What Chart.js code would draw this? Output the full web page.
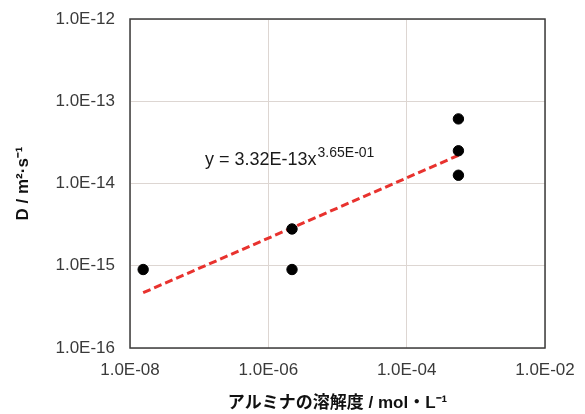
<!DOCTYPE html>
<html>
<head>
<meta charset="utf-8">
<script src="https://cdn.jsdelivr.net/npm/chart.js@4.4.1/dist/chart.umd.min.js"></script>
<style>
  html, body { margin: 0; padding: 0; background: #ffffff; }
  #wrap { width: 585px; height: 414px; position: relative; }
</style>
</head>
<body>
<div id="wrap"><canvas id="c" width="585" height="414"></canvas></div>
<script>
// ---- data ----
const solubility = [1.55e-8, 2.2e-6, 2.2e-6, 5.6e-4, 5.6e-4, 5.6e-4];      // mol/L
const diffusion  = [9.0e-16, 2.8e-15, 9.0e-16, 6.1e-14, 2.5e-14, 1.26e-14]; // m2/s
const trendX = [1.55e-8, 5.6e-4];
const trendY = [4.7e-16, 2.2e-14];
const xTickValues = [1e-8, 1e-6, 1e-4, 1e-2];
const xTickLabels = ['1.0E-08', '1.0E-06', '1.0E-04', '1.0E-02'];
const yTickValues = [1e-16, 1e-15, 1e-14, 1e-13, 1e-12];
const yTickLabels = ['1.0E-16', '1.0E-15', '1.0E-14', '1.0E-13', '1.0E-12'];
const equationMain = 'y = 3.32E-13x';
const equationExp = '3.65E-01';
const xTitle = 'アルミナの溶解度 / mol・L⁻¹';
const yTitle = 'D / m²·s⁻¹';

const FONT = "'Liberation Sans', Arial, 'Noto Sans CJK JP', sans-serif";
const TICK_COLOR = '#3a3a3a';
const GRID_COLOR = '#ddd6d2';

const frame = {
  id: 'frame',
  afterDatasetsDraw(chart) {
    const {ctx, chartArea: a} = chart;
    ctx.save();
    ctx.strokeStyle = '#3c3c3c';
    ctx.lineWidth = 1.5;
    ctx.strokeRect(a.left, a.top, a.right - a.left, a.bottom - a.top);
    ctx.restore();
  },
  afterDraw(chart) {
    const {ctx} = chart;
    ctx.save();
    ctx.fillStyle = '#1a1a1a';
    ctx.textBaseline = 'alphabetic';
    ctx.textAlign = 'left';
    ctx.font = "18px " + FONT;
    const x0 = 205, y0 = 165;
    ctx.fillText(equationMain, x0, y0);
    const w = ctx.measureText(equationMain).width;
    ctx.font = "14px " + FONT;
    ctx.fillText(equationExp, x0 + w + 1, y0 - 8);
    ctx.restore();
  }
};

const tickCb = (values, labels) => function(value) {
  const i = values.findIndex(v => Math.abs(Math.log10(v) - Math.log10(value)) < 1e-6);
  return i >= 0 ? labels[i] : '';
};

new Chart(document.getElementById('c'), {
  type: 'scatter',
  data: {
    datasets: [
      {
        label: 'data',
        data: solubility.map((x, i) => ({x, y: diffusion[i]})),
        backgroundColor: '#000000',
        borderColor: '#000000',
        pointRadius: 5.2,
        pointHoverRadius: 5.2,
        order: 1
      },
      {
        label: 'trend',
        type: 'line',
        data: trendX.map((x, i) => ({x, y: trendY[i]})),
        borderColor: '#e8322e',
        borderWidth: 3,
        borderDash: [8, 4],
        pointRadius: 0,
        fill: false,
        order: 2
      }
    ]
  },
  options: {
    responsive: false,
    animation: false,
    devicePixelRatio: 1,
    layout: { padding: { top: 19, right: 40, left: 0, bottom: 0 } },
    plugins: { legend: { display: false }, tooltip: { enabled: false } },
    scales: {
      x: {
        type: 'logarithmic',
        min: 1e-8, max: 1e-2,
        afterBuildTicks(scale) { scale.ticks = xTickValues.map(v => ({value: v})); },
        afterFit(scale) { scale.height = 66; scale.paddingLeft = 0; scale.paddingRight = 0; },
        grid: { color: GRID_COLOR, lineWidth: 1, drawTicks: false },
        border: { display: false },
        ticks: {
          callback: tickCb(xTickValues, xTickLabels),
          color: TICK_COLOR,
          font: { family: FONT, size: 17 },
          padding: 12,
          maxRotation: 0, autoSkip: false
        },
        title: {
          display: true,
          text: xTitle,
          color: '#111111',
          font: { family: FONT, size: 17, weight: 'bold' },
          padding: { top: 0, bottom: 0 }
        }
      },
      y: {
        type: 'logarithmic',
        min: 1e-16, max: 1e-12,
        afterBuildTicks(scale) { scale.ticks = yTickValues.map(v => ({value: v})); },
        afterFit(scale) { scale.width = 130; scale.paddingTop = 0; scale.paddingBottom = 0; },
        grid: { color: GRID_COLOR, lineWidth: 1, drawTicks: false },
        border: { display: false },
        ticks: {
          callback: tickCb(yTickValues, yTickLabels),
          color: TICK_COLOR,
          font: { family: FONT, size: 17 },
          padding: 15,
          autoSkip: false
        },
        title: {
          display: true,
          text: yTitle,
          color: '#111111',
          font: { family: FONT, size: 17, weight: 'bold' },
          padding: { top: 13, bottom: 0 }
        }
      }
    }
  },
  plugins: [frame]
});
</script>
</body>
</html>
